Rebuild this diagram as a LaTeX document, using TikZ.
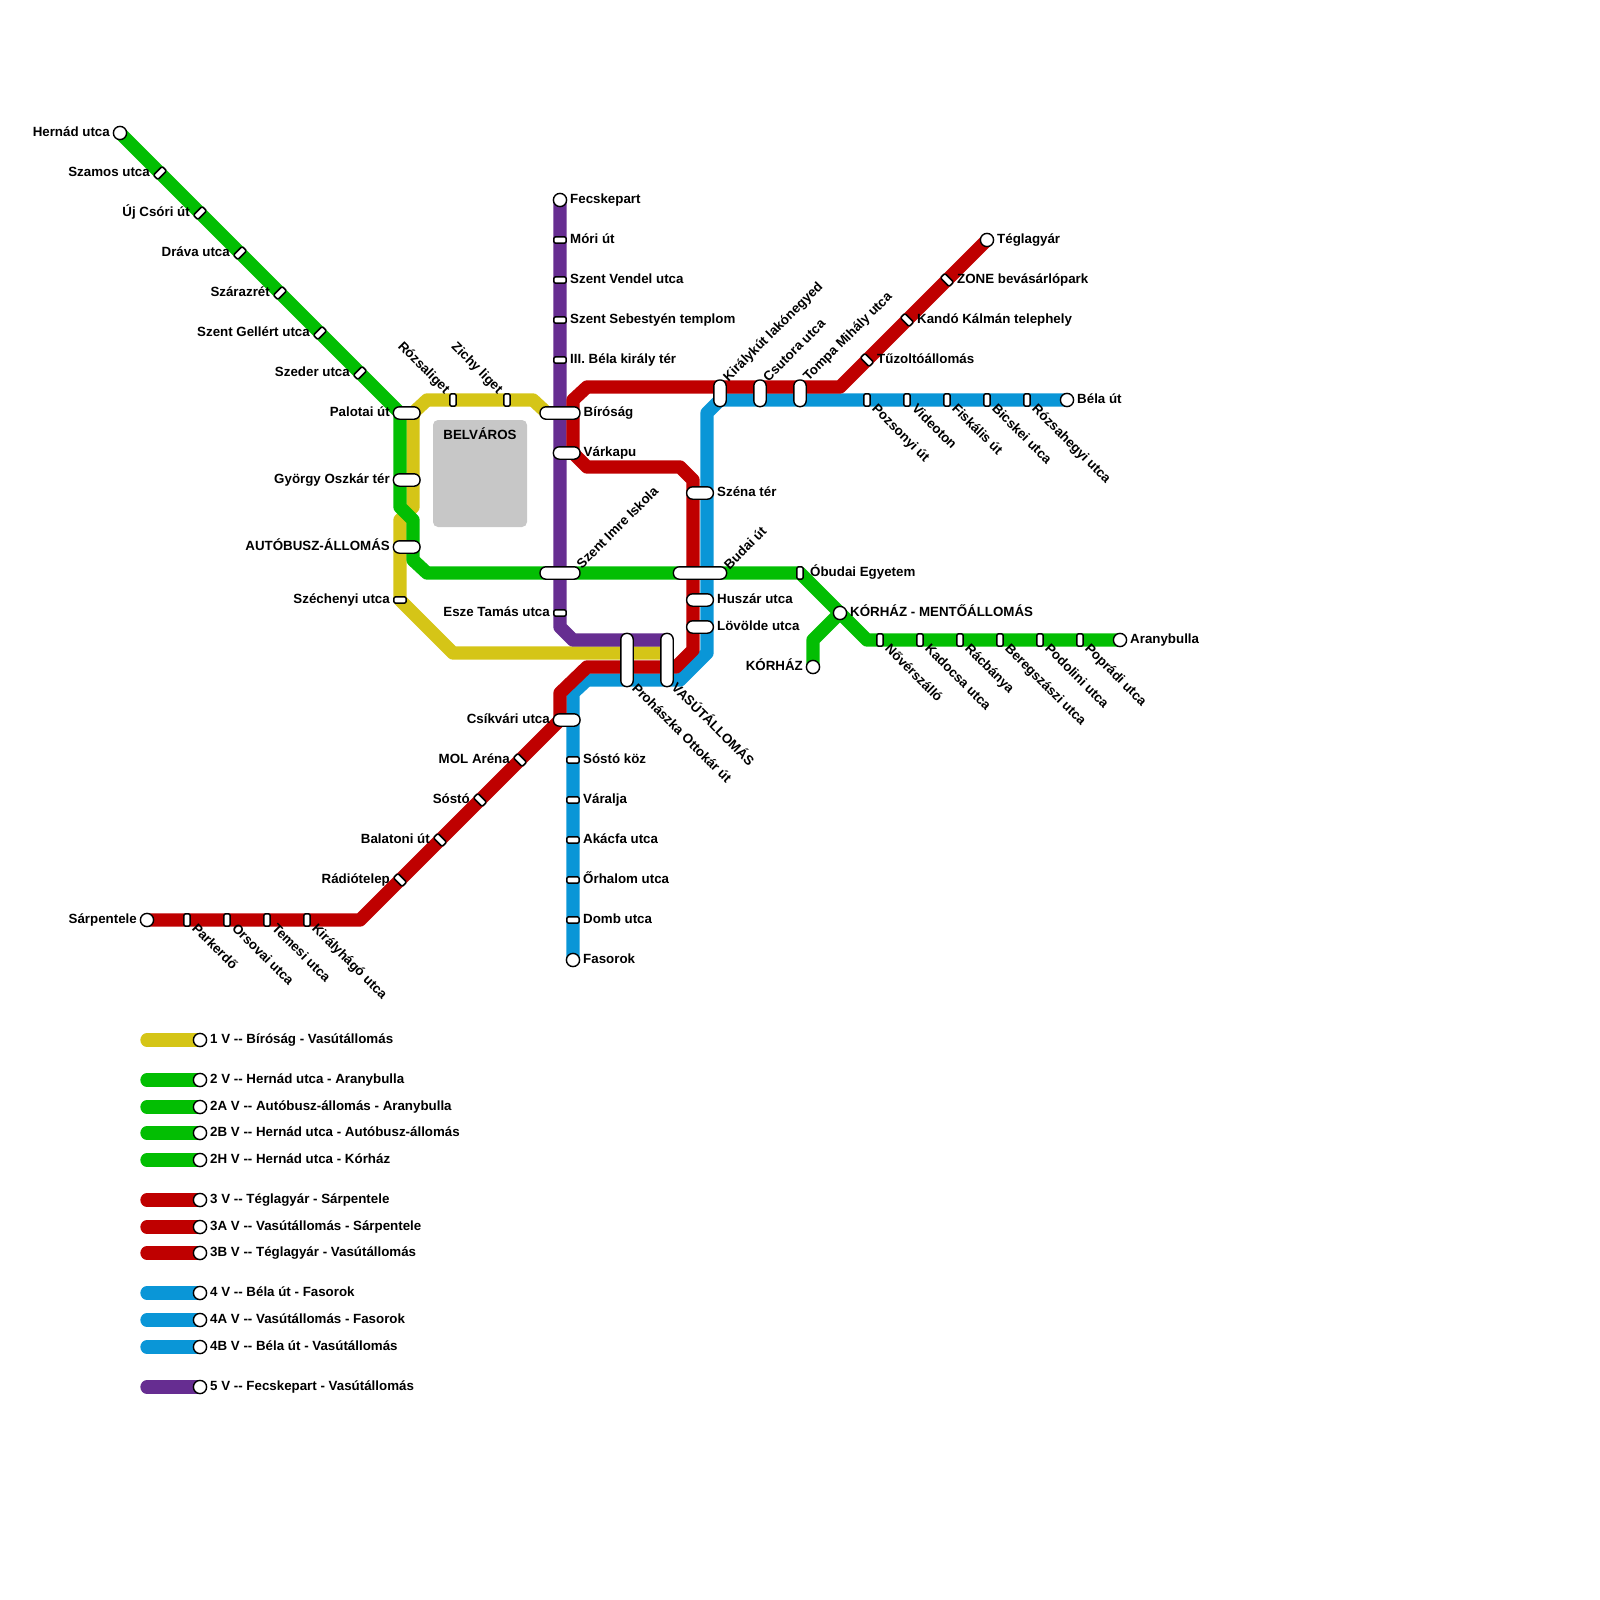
\documentclass[tikz,border=0pt]{standalone}
\usepackage{fontspec}
\setmainfont{Liberation Sans}
\usetikzlibrary{backgrounds}
\definecolor{lineyellow}{RGB}{213,197,23}
\definecolor{linegreen}{RGB}{3,190,3}
\definecolor{linered}{RGB}{191,0,0}
\definecolor{lineblue}{RGB}{10,150,215}
\definecolor{linepurple}{RGB}{102,45,145}
\tikzset{
    every node/.style={font=\bfseries\fontsize{13.33}{15}\selectfont, inner sep=0pt, text=black, text height=9.5pt, text depth=2.8pt},
    route/.style={line width=13.3pt, line cap=round, line join=round},
    stop/.style={draw, fill=white, line width=1.5pt, rounded corners=1.5pt, minimum width=12.4pt, minimum height=6.4pt, text height=0pt, text depth=0pt},
    stopv/.style={stop, rotate=90},
    stopup/.style={stop, rotate=45},
    stopdn/.style={stop, rotate=-45},
    capsule/.style={draw, fill=white, line width=1.4pt, rounded corners=6pt, minimum height=12.4pt, minimum width=#1, text height=0pt, text depth=0pt},
    capsulev/.style={capsule=#1, rotate=90},
    terminal/.style={draw, fill=white, circle, line width=1.4pt, minimum size=13.2pt, text height=0pt, text depth=0pt},
    lblr/.style={anchor=west},
    lbll/.style={anchor=east},
    lblup/.style={anchor=west, rotate=45},
    lbldn/.style={anchor=west, rotate=-45},
    lblupl/.style={anchor=east, rotate=-45},
}
\begin{document}
\begin{tikzpicture}[x=1pt,y=-1pt]
    \useasboundingbox (0,0) rectangle (1600,1600);

    % Downtown block
    \node[fill=black!22, rounded corners=5pt, minimum width=94pt, minimum height=107pt, text height=0pt, text depth=0pt] (belvaros) at (480,473.5) {};
    \node (belvarosl) at (480,436.5) {BELVÁROS};

    % Line 2 west
    \node[terminal] (hernad) at (120,133) {};
    \node[lbll] (hernadl) at (110,133) {Hernád utca};
    \node[stopup] (szamos) at (160,173) {};
    \node[lbll] (szamosl) at (150,173) {Szamos utca};
    \node[stopup] (ujcsori) at (200,213) {};
    \node[lbll] (ujcsoril) at (190,213) {Új Csóri út};
    \node[stopup] (drava) at (240,253) {};
    \node[lbll] (draval) at (230,253) {Dráva utca};
    \node[stopup] (szarazret) at (280,293) {};
    \node[lbll] (szarazretl) at (270,293) {Szárazrét};
    \node[stopup] (gellert) at (320,333) {};
    \node[lbll] (gellertl) at (310,333) {Szent Gellért utca};
    \node[stopup] (szeder) at (360,373) {};
    \node[lbll] (szederl) at (350,373) {Szeder utca};
    \node[capsule=26.7pt] (palotai) at (406.7,413) {};
    \node[lbll] (palotail) at (390,413) {Palotai út};
    \node[capsule=26.7pt] (gyorgy) at (406.7,480) {};
    \node[lbll] (gyorgyl) at (390,480) {György Oszkár tér};
    \node[capsule=26.7pt] (autobusz) at (406.7,547) {};
    \node[lbll] (autobuszl) at (390,547) {AUTÓBUSZ-ÁLLOMÁS};

    % Line 1
    \node[stop] (szechenyi) at (400,600) {};
    \node[lbll] (szechenyil) at (390,600) {Széchenyi utca};
    \node[stopv] (rozsaliget) at (453,400) {};
    \node[lblupl] (rozsaligetl) at (447,392) {Rózsaliget};
    \node[stopv] (zichy) at (507,400) {};
    \node[lblupl] (zichyl) at (500,392) {Zichy liget};

    % Line 5
    \node[terminal] (fecskepart) at (560,200) {};
    \node[lblr] (fecskepartl) at (570,200) {Fecskepart};
    \node[stop] (mori) at (560,240) {};
    \node[lblr] (moril) at (570,240) {Móri út};
    \node[stop] (vendel) at (560,280) {};
    \node[lblr] (vendell) at (570,280) {Szent Vendel utca};
    \node[stop] (sebestyen) at (560,320) {};
    \node[lblr] (sebestyenl) at (570,320) {Szent Sebestyén templom};
    \node[stop] (bela) at (560,360) {};
    \node[lblr] (belal) at (570,360) {III. Béla király tér};
    \node[capsule=40pt] (birosag) at (560,413) {};
    \node[lblr] (birosagl) at (583.5,413) {Bíróság};
    \node[capsule=26.7pt] (varkapu) at (566.7,453) {};
    \node[lblr] (varkapul) at (583.5,453) {Várkapu};
    \node[capsule=40pt] (szentimre) at (560,573) {};
    \node[lblup] (szentimrel) at (579.5,567) {Szent Imre Iskola};
    \node[stop] (esze) at (560,613) {};
    \node[lbll] (eszel) at (550,613) {Esze Tamás utca};

    % Shared stations south
    \node[capsulev=53.3pt] (prohaszka) at (627,660) {};
    \node[lbldn] (prohaszkal) at (633.5,686.5) {Prohászka Ottokár út};
    \node[capsulev=53.3pt] (vasut) at (667,660) {};
    \node[lbldn] (vasutl) at (673,686) {VASÚTÁLLOMÁS};

    % Line 4 east
    \node[capsulev=26.7pt] (kiralykut) at (720,393.3) {};
    \node[lblup] (kiralykutl) at (726,380) {Királykút lakónegyed};
    \node[capsulev=26.7pt] (csutora) at (760,393.3) {};
    \node[lblup] (csutoral) at (766,380) {Csutora utca};
    \node[capsulev=26.7pt] (tompa) at (800,393.3) {};
    \node[lblup] (tompal) at (806,379.5) {Tompa Mihály utca};
    \node[stopv] (pozsonyi) at (867,400) {};
    \node[lbldn] (pozsonyil) at (873.5,407) {Pozsonyi út};
    \node[stopv] (videoton) at (907,400) {};
    \node[lbldn] (videotonl) at (913.5,407) {Videoton};
    \node[stopv] (fiskalis) at (947,400) {};
    \node[lbldn] (fiskalisl) at (953.5,407) {Fiskális út};
    \node[stopv] (bicskei) at (987,400) {};
    \node[lbldn] (bicskeil) at (993.5,407) {Bicskei utca};
    \node[stopv] (rozsahegyi) at (1027,400) {};
    \node[lbldn] (rozsahegyil) at (1033.5,407) {Rózsahegyi utca};
    \node[terminal] (belaut) at (1067,400) {};
    \node[lblr] (belautl) at (1077,400) {Béla út};

    % Line 3 east
    \node[stopdn] (tuzolto) at (867,360) {};
    \node[lblr] (tuzoltol) at (877,360) {Tűzoltóállomás};
    \node[stopdn] (kando) at (907,320) {};
    \node[lblr] (kandol) at (917,320) {Kandó Kálmán telephely};
    \node[stopdn] (zone) at (947,280) {};
    \node[lblr] (zonel) at (957,280) {ZONE bevásárlópark};
    \node[terminal] (teglagyar) at (987,240) {};
    \node[lblr] (teglagyarl) at (997,240) {Téglagyár};

    % Red and blue together
    \node[capsule=26.7pt] (szena) at (700,493) {};
    \node[lblr] (szenal) at (717,493) {Széna tér};
    \node[capsule=53.3pt] (budai) at (700,573) {};
    \node[lblup] (budail) at (727,568) {Budai út};
    \node[capsule=26.7pt] (huszar) at (700,600) {};
    \node[lblr] (huszarl) at (717,600) {Huszár utca};
    \node[capsule=26.7pt] (lovolde) at (700,627) {};
    \node[lblr] (lovoldel) at (717,627) {Lövölde utca};

    % Line 2 east
    \node[stopv] (obudai) at (800,573) {};
    \node[lblr] (obudail) at (810,573) {Óbudai Egyetem};
    \node[terminal] (mento) at (840,613) {};
    \node[lblr] (mentol) at (850,613) {KÓRHÁZ - MENTŐÁLLOMÁS};
    \node[terminal] (korhaz) at (813,667) {};
    \node[lbll] (korhazl) at (803,667) {KÓRHÁZ};
    \node[stopv] (noverszallo) at (880,640) {};
    \node[lbldn] (noverszallol) at (886.5,647) {Nővérszálló};
    \node[stopv] (kadocsa) at (920,640) {};
    \node[lbldn] (kadocsal) at (926.5,647) {Kadocsa utca};
    \node[stopv] (racbanya) at (960,640) {};
    \node[lbldn] (racbanyal) at (966.5,647) {Rácbánya};
    \node[stopv] (beregszaszi) at (1000,640) {};
    \node[lbldn] (beregszaszil) at (1006.5,647) {Beregszászi utca};
    \node[stopv] (podolini) at (1040,640) {};
    \node[lbldn] (podolinil) at (1046.5,647) {Podolini utca};
    \node[stopv] (popradi) at (1080,640) {};
    \node[lbldn] (popradil) at (1086.5,647) {Poprádi utca};
    \node[terminal] (aranybulla) at (1120,640) {};
    \node[lblr] (aranybullal) at (1130,640) {Aranybulla};

    % Line 4 south
    \node[capsule=26.7pt] (csikvari) at (566.7,720) {};
    \node[lbll] (csikvaril) at (550,720) {Csíkvári utca};
    \node[stop] (sostokoz) at (573,760) {};
    \node[lblr] (sostokozl) at (583,760) {Sóstó köz};
    \node[stop] (varalja) at (573,800) {};
    \node[lblr] (varaljal) at (583,800) {Váralja};
    \node[stop] (akacfa) at (573,840) {};
    \node[lblr] (akacfal) at (583,840) {Akácfa utca};
    \node[stop] (orhalom) at (573,880) {};
    \node[lblr] (orhaloml) at (583,880) {Őrhalom utca};
    \node[stop] (domb) at (573,920) {};
    \node[lblr] (dombl) at (583,920) {Domb utca};
    \node[terminal] (fasorok) at (573,960) {};
    \node[lblr] (fasorokl) at (583,960) {Fasorok};

    % Line 3 south west
    \node[stopdn] (mol) at (520,760) {};
    \node[lbll] (moll) at (510,760) {MOL Aréna};
    \node[stopdn] (sosto) at (480,800) {};
    \node[lbll] (sostol) at (470,800) {Sóstó};
    \node[stopdn] (balatoni) at (440,840) {};
    \node[lbll] (balatonil) at (430,840) {Balatoni út};
    \node[stopdn] (radiotelep) at (400,880) {};
    \node[lbll] (radiotelepl) at (390,880) {Rádiótelep};
    \node[stopv] (kiralyhago) at (307,920) {};
    \node[lbldn] (kiralyhagol) at (313.5,926.5) {Királyhágó utca};
    \node[stopv] (temesi) at (267,920) {};
    \node[lbldn] (temesil) at (273.5,926.5) {Temesi utca};
    \node[stopv] (orsovai) at (227,920) {};
    \node[lbldn] (orsovail) at (233.5,926.5) {Orsovai utca};
    \node[stopv] (parkerdo) at (187,920) {};
    \node[lbldn] (parkerdol) at (193.5,926.5) {Parkerdő};
    \node[terminal] (sarpentele) at (147,920) {};
    \node[lbll] (sarpentelel) at (137,920) {Sárpentele};

    % Legend
    \node[terminal] (leg1) at (200,1040) {};
    \node[lblr] (leg1l) at (210,1040) {1 V -{}- Bíróság - Vasútállomás};
    \node[terminal] (leg2) at (200,1080) {};
    \node[lblr] (leg2l) at (210,1080) {2 V -{}- Hernád utca - Aranybulla};
    \node[terminal] (leg2a) at (200,1107) {};
    \node[lblr] (leg2al) at (210,1107) {2A V -{}- Autóbusz-állomás - Aranybulla};
    \node[terminal] (leg2b) at (200,1133) {};
    \node[lblr] (leg2bl) at (210,1133) {2B V -{}- Hernád utca - Autóbusz-állomás};
    \node[terminal] (leg2h) at (200,1160) {};
    \node[lblr] (leg2hl) at (210,1160) {2H V -{}- Hernád utca - Kórház};
    \node[terminal] (leg3) at (200,1200) {};
    \node[lblr] (leg3l) at (210,1200) {3 V -{}- Téglagyár - Sárpentele};
    \node[terminal] (leg3a) at (200,1227) {};
    \node[lblr] (leg3al) at (210,1227) {3A V -{}- Vasútállomás - Sárpentele};
    \node[terminal] (leg3b) at (200,1253) {};
    \node[lblr] (leg3bl) at (210,1253) {3B V -{}- Téglagyár - Vasútállomás};
    \node[terminal] (leg4) at (200,1293) {};
    \node[lblr] (leg4l) at (210,1293) {4 V -{}- Béla út - Fasorok};
    \node[terminal] (leg4a) at (200,1320) {};
    \node[lblr] (leg4al) at (210,1320) {4A V -{}- Vasútállomás - Fasorok};
    \node[terminal] (leg4b) at (200,1347) {};
    \node[lblr] (leg4bl) at (210,1347) {4B V -{}- Béla út - Vasútállomás};
    \node[terminal] (leg5) at (200,1387) {};
    \node[lblr] (leg5l) at (210,1387) {5 V -{}- Fecskepart - Vasútállomás};

    \begin{scope}[on background layer]
        % Routes
        \draw[route, lineyellow] (birosag.center) -- (547,413) -- (533,400) -- (427,400) -- (413,413) -- (413,507) -- (400,520) -- (400,600) -- (453,653) -- (vasut.center |- 0,653);
        \draw[route, linepurple] (fecskepart.center) -- (560,627) -- (573,640) -- (vasut.center |- 0,640);
        \draw[route, lineblue] (belaut.center) -- (720,400) -- (707,413) -- (707,653) -- (680,680) -- (587,680) -- (573,693) -- (fasorok.center);
        \draw[route, linered] (teglagyar.center) -- (840,387) -- (587,387) -- (573,400) -- (573,453) -- (587,467) -- (680,467) -- (693,480) -- (693,650) -- (676,667) -- (587,667) -- (560,693) -- (560,720) -- (360,920) -- (sarpentele.center);
        \draw[route, linegreen] (hernad.center) -- (400,413) -- (400,507) -- (413,520) -- (413,560) -- (427,573) -- (800,573) -- (867,640) -- (aranybulla.center);
        \draw[route, linegreen] (mento.center) -- (813,640) -- (korhaz.center);
        % Legend bars
        \draw[route, lineyellow] (leg1.center) -- ++(-53,0);
        \draw[route, linegreen] (leg2.center) -- ++(-53,0);
        \draw[route, linegreen] (leg2a.center) -- ++(-53,0);
        \draw[route, linegreen] (leg2b.center) -- ++(-53,0);
        \draw[route, linegreen] (leg2h.center) -- ++(-53,0);
        \draw[route, linered] (leg3.center) -- ++(-53,0);
        \draw[route, linered] (leg3a.center) -- ++(-53,0);
        \draw[route, linered] (leg3b.center) -- ++(-53,0);
        \draw[route, lineblue] (leg4.center) -- ++(-53,0);
        \draw[route, lineblue] (leg4a.center) -- ++(-53,0);
        \draw[route, lineblue] (leg4b.center) -- ++(-53,0);
        \draw[route, linepurple] (leg5.center) -- ++(-53,0);
    \end{scope}
\end{tikzpicture}
\end{document}
